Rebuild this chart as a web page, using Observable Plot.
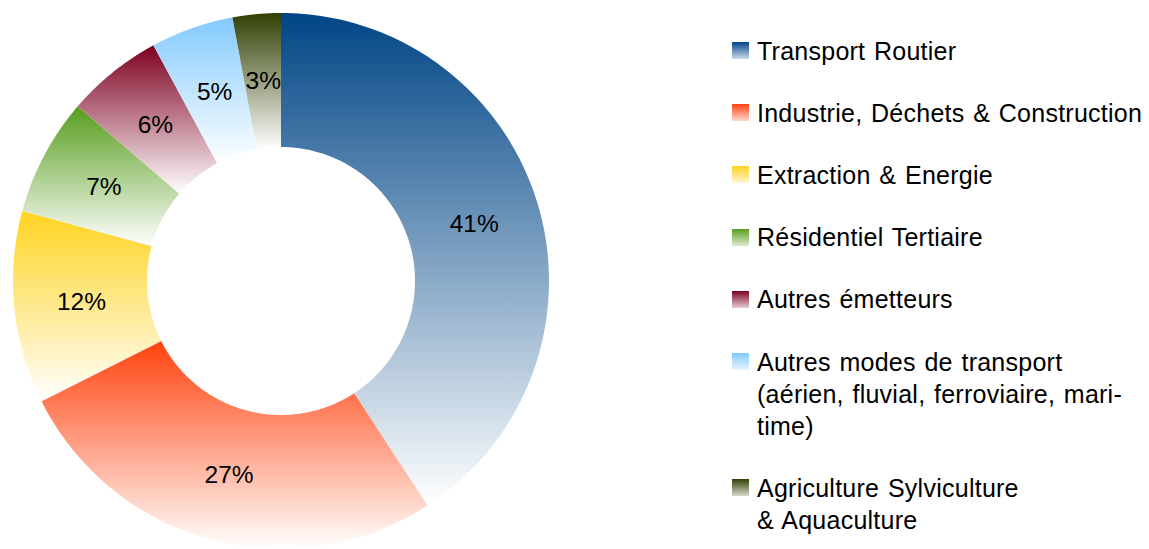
<!DOCTYPE html>
<html>
<head>
<meta charset="utf-8">
<script src="https://cdn.jsdelivr.net/npm/d3@7"></script>
<script src="https://cdn.jsdelivr.net/npm/@observablehq/plot@0.6"></script>
<style>
  html, body { margin: 0; padding: 0; background: #fff; }
  #wrap { position: relative; width: 1149px; height: 549px; font-family: "Liberation Sans", Arial, sans-serif; }
  #legend { position: absolute; left: 732px; top: 34.7px; }
  .row { display: flex; align-items: flex-start; margin-bottom: 30.2px; }
  .sw { width: 17px; height: 17px; margin-top: 7.3px; margin-right: 8px; flex: none; }
  .lab { font-size: 25px; line-height: 32px; white-space: pre-line; color: #000; letter-spacing: 0.25px; word-spacing: 1.5px; }
</style>
</head>
<body>
<div id="wrap"><div id="chart"></div><div id="legend"></div></div>
<script>
const categories = [
  "Transport Routier",
  "Industrie, Déchets & Construction",
  "Extraction & Energie",
  "Résidentiel Tertiaire",
  "Autres émetteurs",
  "Autres modes de transport\n(aérien, fluvial, ferroviaire, mari-\ntime)",
  "Agriculture Sylviculture\n& Aquaculture"
];
const values = [40.8, 26.8, 11.6, 7.1, 5.8, 5.0, 2.9];
const colors = ["#004586", "#ff420e", "#ffd320", "#579d1c", "#7e0021", "#83caff", "#314004"];

const total = d3.sum(values);
const R = 1, r = 0.5;
let acc = 0;
const slices = values.map((v, i) => {
  const a0 = acc / total * 2 * Math.PI;
  acc += v;
  const a1 = acc / total * 2 * Math.PI;
  return {i, v, a0, a1, label: Math.round(v) + "%"};
});

const N = 120;
const slicePoints = slices.map(s => d3.range(N + 1).map(k => {
  const a = s.a0 + (s.a1 - s.a0) * k / N;
  return {xo: R * Math.sin(a), yo: R * Math.cos(a), xi: r * Math.sin(a), yi: r * Math.cos(a)};
}));

const labelData = slices.map(s => {
  const a = (s.a0 + s.a1) / 2, rm = (R + r) / 2;
  return {x: rm * Math.sin(a), y: rm * Math.cos(a), label: s.label};
});

function defsMark() {
  const defs = d3.create("svg:defs");
  colors.forEach((c, i) => {
    const g = defs.append("linearGradient").attr("id", "grad" + i)
      .attr("x1", 0).attr("y1", 0).attr("x2", 0).attr("y2", 1);
    g.append("stop").attr("offset", "0%").attr("stop-color", c);
    g.append("stop").attr("offset", "100%").attr("stop-color", "#ffffff");
  });
  return defs.node();
}

const chart = Plot.plot({
  width: 1149,
  height: 549,
  margin: 0,
  x: {domain: [-1, 1], range: [13, 549], axis: null},
  y: {domain: [-1, 1], range: [549, 13], axis: null},
  marks: [
    defsMark,
    ...slicePoints.map((pts, i) => Plot.area(pts, {
      x1: "xo", y1: "yo", x2: "xi", y2: "yi",
      fill: `url(#grad${i})`, curve: "linear"
    })),
    Plot.text(labelData, {
      x: "x", y: "y", text: "label",
      fontSize: 24.5, fill: "#000",
      fontFamily: "Liberation Sans, Arial, sans-serif"
    })
  ]
});
chart.style.fontFamily = "Liberation Sans, Arial, sans-serif";
document.getElementById("chart").appendChild(chart);

const legend = d3.select("#legend");
categories.forEach((c, i) => {
  const row = legend.append("div").attr("class", "row");
  row.append("div").attr("class", "sw")
    .style("background", `linear-gradient(to bottom, ${colors[i]}, ${d3.interpolateRgb(colors[i], "#ffffff")(0.8)})`);
  row.append("div").attr("class", "lab").text(c);
});
</script>
</body>
</html>
